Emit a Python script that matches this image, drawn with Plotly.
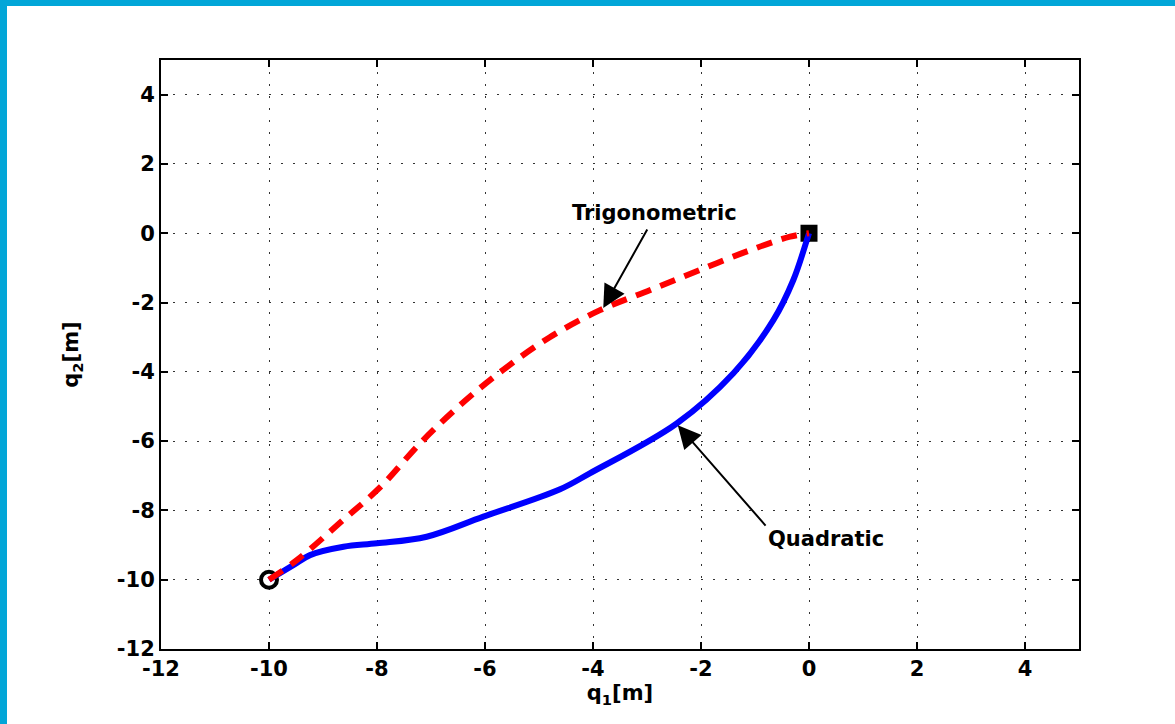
import plotly.graph_objects as go

# Data
quad_x = [-10, -9.55, -9.24, -8.62, -8.0, -7.08, -6.03, -4.61, -4.06, -2.45, -1.40, -0.66, -0.29, -0.04, 0]
quad_y = [-10, -9.58, -9.29, -9.05, -8.95, -8.76, -8.18, -7.39, -6.93, -5.49, -4.04, -2.51, -1.35, -0.20, 0]

trig_x = [-10, -9.48, -8.63, -7.94, -7.20, -6.46, -5.67, -4.80, -3.87, -2.94, -2.02, -1.09, -0.35, 0]
trig_y = [-10, -9.43, -8.28, -7.33, -6.06, -4.96, -3.95, -3.0, -2.22, -1.64, -1.06, -0.49, -0.1, 0]

start_pt = (-10, -10)
end_pt = (0, 0)

ticks = [-12, -10, -8, -6, -4, -2, 0, 2, 4]

labels = ["Trigonometric", "Quadratic"]
label_pos = [(-2.87, 0.58), (0.31, -8.83)]
arrow_tail = [(-2.98, 0.15), (-0.78, -8.48)]
arrow_tip = [(-3.81, -2.16), (-2.43, -5.54)]

FONT = "DejaVu Sans"

fig = go.Figure()

fig.add_trace(go.Scatter(x=[start_pt[0]], y=[start_pt[1]], mode="markers",
                         marker=dict(symbol="circle-open", size=16, color="black",
                                     line=dict(width=4, color="black")),
                         showlegend=False, hoverinfo="skip"))
fig.add_trace(go.Scatter(x=[end_pt[0]], y=[end_pt[1]], mode="markers",
                         marker=dict(symbol="square", size=17, color="black"),
                         showlegend=False, hoverinfo="skip"))

fig.add_trace(go.Scatter(x=quad_x, y=quad_y, mode="lines",
                         line=dict(color="#0000FF", width=6, shape="spline", smoothing=1),
                         name="Quadratic", showlegend=False))
fig.add_trace(go.Scatter(x=trig_x, y=trig_y, mode="lines",
                         line=dict(color="#FF0000", width=6, dash="16px,10px",
                                   shape="spline", smoothing=1),
                         name="Trigonometric", showlegend=False))

axis_common = dict(
    range=[-12, 5], tickvals=ticks, ticktext=[str(t) for t in ticks],
    showline=True, linecolor="black", linewidth=2, mirror="ticks",
    ticks="inside", ticklen=7, tickwidth=1.5, tickcolor="black",
    showgrid=True, gridcolor="#333333", gridwidth=1, griddash="2px,10px",
    zeroline=False,
    tickfont=dict(family=FONT, size=21, color="black", weight="bold"),
)

fig.update_xaxes(**axis_common,
                 title=dict(text="q<sub>1</sub>[m]", standoff=0,
                            font=dict(family=FONT, size=21, color="black", weight="bold")))
fig.update_yaxes(**axis_common,
                 title=dict(text="q<sub>2</sub>[m]", standoff=32,
                            font=dict(family=FONT, size=21, color="black", weight="bold")))

for txt, (lx, ly), (tx, ty), (hx, hy) in zip(labels, label_pos, arrow_tail, arrow_tip):
    fig.add_annotation(x=lx, y=ly, xref="x", yref="y", text=txt, showarrow=False,
                       font=dict(family=FONT, size=21, color="black", weight="bold"))
    fig.add_annotation(x=hx, y=hy, ax=tx, ay=ty, xref="x", yref="y", axref="x", ayref="y",
                       text="", showarrow=True, arrowhead=2, arrowsize=2.3,
                       arrowwidth=2, arrowcolor="black")

# blue frame strips (left and top)
L, R, T, B = 161, 96, 60, 75
W, H = 1175, 724
pw, ph = W - L - R, H - T - B
def px(xp):
    return (xp - L) / pw
def py(yp):
    return 1 - (yp - T) / ph
BLUE = "#02A6D8"
fig.add_shape(type="rect", xref="paper", yref="paper", x0=px(0), x1=px(7), y0=py(H), y1=py(0),
              fillcolor=BLUE, line=dict(width=0), layer="above")
fig.add_shape(type="rect", xref="paper", yref="paper", x0=px(0), x1=px(W), y0=py(6), y1=py(0),
              fillcolor=BLUE, line=dict(width=0), layer="above")

fig.update_layout(
    width=W, height=H,
    margin=dict(l=L, r=R, t=T, b=B),
    paper_bgcolor="white", plot_bgcolor="white",
    showlegend=False,
)

fig.write_html("out.html", config={"displayModeBar": False},
               post_script="document.body.style.margin='0px';document.body.style.overflow='hidden';")
